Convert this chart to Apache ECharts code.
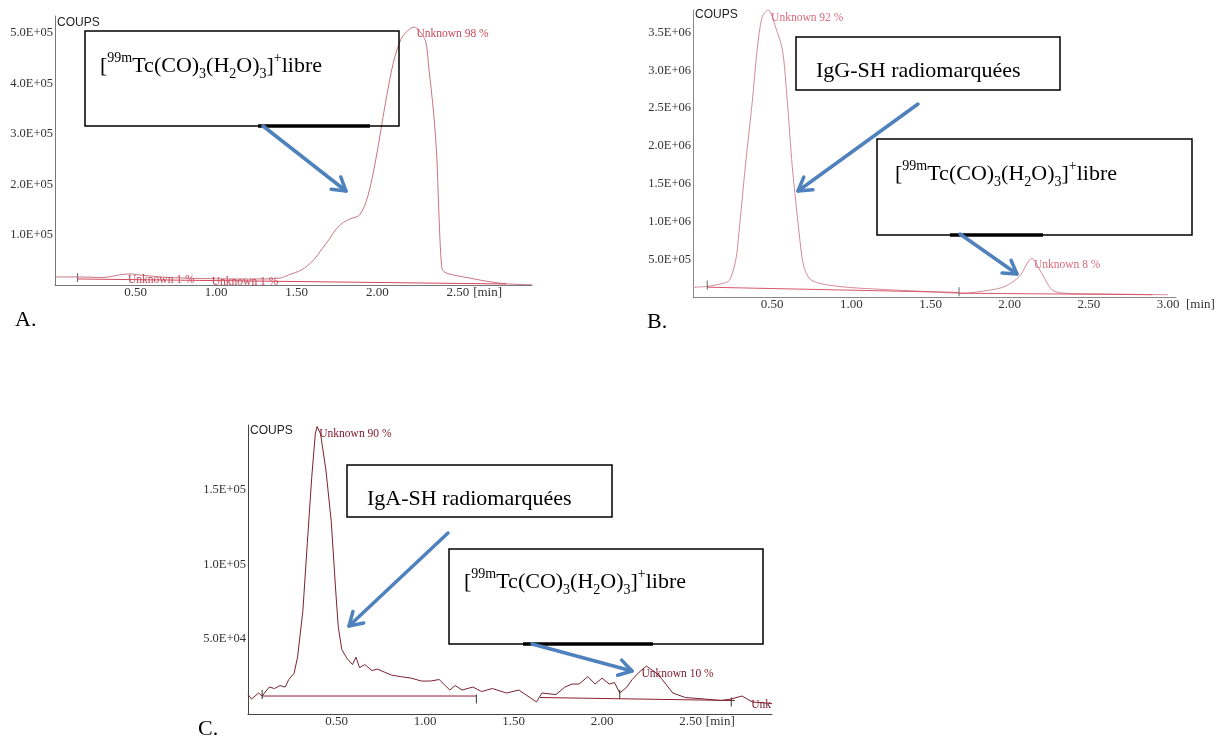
<!DOCTYPE html>
<html><head><meta charset="utf-8">
<script src="https://cdn.jsdelivr.net/npm/echarts@6/dist/echarts.min.js"></script>
<style>html,body{margin:0;padding:0;background:#fff}#c{width:1228px;height:738px}</style>
</head><body><div id="c"></div><script>
// ---------- Panel A ----------
const timeA = [0,0.14,0.3,0.4,0.46,0.55,0.7,0.9,1.1,1.3,1.4,1.45,1.53,1.6,1.66,1.7,1.74,1.78,1.83,1.89,1.94,1.99,2.05,2.10,2.15,2.20,2.23,2.26,2.30,2.32,2.35,2.37,2.38,2.40,2.42,2.50,2.57,2.65,2.78,2.9,2.96];
const countsA = [16000,16000,15000,20000,22000,19000,15000,13000,12000,12000,14000,20000,30000,48000,73000,90000,109000,122000,131000,139000,175000,248000,360000,442000,490000,508000,512000,505000,484000,430000,340000,250000,160000,35000,25000,18000,14000,9000,3000,1000,500];
const baseTimeA = [0.14,2.8];
const baseCountsA = [12000,2000];
const markTimeA = [0.14];
const markCountsA = [15000];
const peakTimeA = [2.24,0.45,0.97];
const peakCountsA = [498000,10000,6000];
const peakTextA = ['Unknown 98 %','Unknown 1 %','Unknown 1 %'];

// ---------- Panel B ----------
const timeB = [0,0.09,0.185,0.23,0.27,0.29,0.33,0.375,0.405,0.437,0.475,0.52,0.565,0.595,0.627,0.648,0.67,0.70,0.75,0.92,1.2,1.5,1.7,1.87,1.97,2.06,2.14,2.20,2.27,2.35,2.6,3.0];
const countsB = [130000,140000,180000,220000,490000,850000,1720000,2600000,3270000,3710000,3800000,3580000,3270000,2600000,1720000,1280000,850000,400000,220000,140000,100000,70000,50000,90000,140000,270000,510000,320000,90000,50000,40000,30000];
const baseTimeB = [0.09,1.68,null,1.68,2.9];
const baseCountsB = [130000,60000,null,50000,30000];
const markTimeB = [0.09,1.68];
const markCountsB = [160000,70000];
const peakTimeB = [0.49,2.15];
const peakCountsB = [3700000,420000];
const peakTextB = ['Unknown 92 %','Unknown 8 %'];

// ---------- Panel C ----------
const timeC = [0,0.02,0.06,0.08,0.12,0.15,0.18,0.21,0.23,0.26,0.28,0.31,0.335,0.36,0.38,0.39,0.41,0.44,0.47,0.495,0.51,0.53,0.56,0.59,0.61,0.63,0.66,0.70,0.73,0.77,0.81,0.86,0.92,0.98,1.03,1.08,1.14,1.17,1.21,1.27,1.32,1.38,1.46,1.53,1.63,1.66,1.74,1.79,1.83,1.87,1.92,1.96,2.0,2.04,2.07,2.1,2.14,2.17,2.21,2.25,2.3,2.34,2.4,2.47,2.58,2.67,2.73,2.79,2.85,2.96];
const countsC = [13000,10000,14000,12000,18000,17000,19000,18000,23000,27000,38000,69000,114000,158000,187000,192000,187000,163000,129000,83000,58000,43000,37000,33000,38000,31000,33000,29000,30000,28000,26000,25000,24000,22000,22000,23000,16000,19000,16000,18000,15000,17000,14000,16000,8000,14000,13000,18000,20000,20000,25000,20000,24000,20000,21000,14000,18000,23000,28000,32000,28000,23000,14000,11000,10000,9000,10000,12000,8000,7000];
const baseTimeC = [0.08,1.29,null,1.65,2.75];
const baseCountsC = [12000,12000,null,11000,9000];
const markTimeC = [0.08,1.29,2.1,2.73];
const markCountsC = [13000,10000,13000,8000];
const peakTimeC = [0.40,2.22,2.84];
const peakCountsC = [187000,27000,6000];
const peakTextC = ['Unknown 90 %','Unknown 10 %','Unk'];

// ---------- tick labels / texts ----------
const xTickLabels = ['0.50','1.00','1.50','2.00','2.50','3.00'];
const yUnit = 'COUPS';
const xUnit = '[min]';
const panelLetters = ['A.','B.','C.'];
const formulaParts = ['[','99m','Tc(CO)','3','(H','2','O)','3',']','+','libre'];
const labelIgG = 'IgG-SH radiomarquées';
const labelIgA = 'IgA-SH radiomarquées';

function zip(t, c){ return t.map((x,i)=> x===null ? [null,null] : [x, c[i]]); }
function sci(v){
  if(v<=0) return '';
  const e = Math.floor(Math.log10(v)+1e-9);
  const m = v/Math.pow(10,e);
  return m.toFixed(1)+'E+'+(e<10?'0':'')+e;
}
function xFmt(v){ const s=v.toFixed(2); return xTickLabels.indexOf(s)>=0 ? s : ''; }

const SERIF = '"Liberation Serif","Times New Roman",serif';
const NARROW = '"Liberation Sans Narrow","Arial Narrow","Liberation Sans",sans-serif';

const grids = [
  {left:55, top:16, width:477, height:269},
  {left:693, top:10, width:483, height:287},
  {left:248, top:425, width:524, height:289}
];
const xMax = [2.96, 3.05, 2.96];
const yMax = [534000, 3800000, 193000];
const yInt = [100000, 500000, 50000];
const axisCol = ['#777','#888','#444'];
const xNameGap = [-67, 10, -69];
const yNameGap = [-7, -5, -6];

const xAxes = grids.map((g,i)=>({
  type:'value', gridIndex:i, min:0, max:xMax[i], interval:0.5,
  axisLine:{show:true, lineStyle:{color:axisCol[i], width:1}},
  axisTick:{show:false}, splitLine:{show:false},
  axisLabel:{show:true, formatter:xFmt, showMinLabel:false, showMaxLabel:false, margin:1,
    fontFamily:SERIF, fontSize:13, color:'#333'},
  name:xUnit, nameLocation:'end', nameGap:xNameGap[i],
  nameTextStyle:{fontFamily:SERIF, fontSize:13, color:'#333', align:'left', verticalAlign:'top', padding:[1,0,0,0]}
}));
const yAxes = grids.map((g,i)=>({
  type:'value', gridIndex:i, min:0, max:yMax[i], interval:yInt[i],
  axisLine:{show:true, lineStyle:{color:axisCol[i], width:1}},
  axisTick:{show:false}, splitLine:{show:false},
  axisLabel:{show:true, formatter:sci, showMinLabel:false, showMaxLabel:false, margin:2,
    fontFamily:SERIF, fontSize:12.5, color:'#333'},
  name:yUnit, nameLocation:'end', nameGap:yNameGap[i],
  nameTextStyle:{fontFamily:NARROW, fontSize:12, color:'#222', align:'left', verticalAlign:'middle', padding:[0,0,0,2]}
}));

const curveCol = ['#c87482','#d48a98','#7b2331'];
const baseCol = ['#d2485c','#d8586a','#8a1f30'];
const labelCol = ['#c8485a','#d86a7a','#7d1526'];

function peakMarks(ts, cs, txt, i){
  return {
    symbol:'circle', symbolSize:1, silent:true, animation:false,
    itemStyle:{color:'rgba(0,0,0,0)'},
    label:{show:true, position:'right', distance:0, formatter:p=>p.name,
      fontFamily:SERIF, fontSize:11.5, color:labelCol[i]},
    data: ts.map((t,k)=>({name:txt[k], coord:[t, cs[k]]}))
  };
}
function tickMarks(ts, cs, i){
  return {
    symbol:'rect', symbolSize:[1,9], silent:true, animation:false,
    itemStyle:{color:i===2?'#333':'#666'}, label:{show:false},
    data: ts.map((t,k)=>({coord:[t, cs[k]]}))
  };
}

const series = [
  {type:'line', xAxisIndex:0, yAxisIndex:0, data:zip(timeA,countsA), showSymbol:false, smooth:0.3,
   lineStyle:{color:curveCol[0], width:1}, markPoint:peakMarks(peakTimeA,peakCountsA,peakTextA,0)},
  {type:'line', xAxisIndex:0, yAxisIndex:0, data:zip(baseTimeA,baseCountsA), showSymbol:false, connectNulls:false,
   lineStyle:{color:baseCol[0], width:1}, markPoint:tickMarks(markTimeA,markCountsA,0)},
  {type:'line', xAxisIndex:1, yAxisIndex:1, data:zip(timeB,countsB), showSymbol:false, smooth:0.3,
   lineStyle:{color:curveCol[1], width:1}, markPoint:peakMarks(peakTimeB,peakCountsB,peakTextB,1)},
  {type:'line', xAxisIndex:1, yAxisIndex:1, data:zip(baseTimeB,baseCountsB), showSymbol:false, connectNulls:false,
   lineStyle:{color:baseCol[1], width:1}, markPoint:tickMarks(markTimeB,markCountsB,1)},
  {type:'line', xAxisIndex:2, yAxisIndex:2, data:zip(timeC,countsC), showSymbol:false,
   lineStyle:{color:curveCol[2], width:1}, markPoint:peakMarks(peakTimeC,peakCountsC,peakTextC,2)},
  {type:'line', xAxisIndex:2, yAxisIndex:2, data:zip(baseTimeC,baseCountsC), showSymbol:false, connectNulls:false,
   lineStyle:{color:baseCol[2], width:1}, markPoint:tickMarks(markTimeC,markCountsC,2)}
];

// ---------- annotations (boxes, arrows, labels) ----------
const richF = {
  n:{fontFamily:SERIF, fontSize:22, lineHeight:30, verticalAlign:'middle', fill:'#000', color:'#000'},
  sup:{fontFamily:SERIF, fontSize:14, lineHeight:14, verticalAlign:'top', fill:'#000', color:'#000'},
  sub:{fontFamily:SERIF, fontSize:14, lineHeight:14, verticalAlign:'bottom', fill:'#000', color:'#000'}
};
const partStyle = ['n','sup','n','sub','n','sub','n','sub','n','sup','n'];
const formulaText = formulaParts.map((p,k)=>'{'+partStyle[k]+'|'+p+'}').join('');

function box(x1,y1,x2,y2){
  return {type:'rect', shape:{x:x1,y:y1,width:x2-x1,height:y2-y1}, style:{fill:'none', stroke:'#000', lineWidth:1.5}, z:40};
}
function seg(x1,x2,y){
  return {type:'line', shape:{x1:x1,y1:y,x2:x2,y2:y}, style:{stroke:'#000', lineWidth:3.5}, z:41};
}
function arrow(x1,y1,x2,y2){
  const a = Math.atan2(y2-y1,x2-x1), L=15, s=0.55;
  const st = {stroke:'#4f81bd', lineWidth:3.5, lineCap:'round', lineJoin:'round', fill:'none'};
  return [
    {type:'line', shape:{x1:x1,y1:y1,x2:x2,y2:y2}, style:st, z:50},
    {type:'polyline', shape:{points:[[x2-L*Math.cos(a-s), y2-L*Math.sin(a-s)],[x2,y2],[x2-L*Math.cos(a+s), y2-L*Math.sin(a+s)]]}, style:st, z:50}
  ];
}
function formula(x,y){
  return {type:'text', x:x, y:y, z:45, style:{text:formulaText, rich:richF, align:'left', verticalAlign:'middle', fill:'#000'}};
}
function plain(txt,x,y,size){
  return {type:'text', x:x, y:y, z:45, style:{text:txt, fontFamily:SERIF, fontSize:size, fill:'#000', align:'left', verticalAlign:'middle'}};
}

const graphic = [].concat(
  [box(85,31,399,126), seg(258,370,126), formula(100,66)],
  arrow(263,126,346,191),
  [box(796,37,1060,90), plain(labelIgG,816,71,22)],
  arrow(918,104,798,191),
  [box(877,139,1192,235), seg(950,1043,235), formula(895,174)],
  arrow(960,234,1017,274),
  [box(347,465,612,517), plain(labelIgA,367,499,22)],
  arrow(448,533,349,626),
  [box(449,549,763,644), seg(523,653,644), formula(464,582)],
  arrow(532,644,632,671),
  [plain(panelLetters[0],15,320,22), plain(panelLetters[1],647,322,22), plain(panelLetters[2],198,729,22)]
);

const chart = echarts.init(document.getElementById('c'), null, {renderer:'canvas'});
chart.setOption({
  animation:false, backgroundColor:'#fff',
  grid:grids, xAxis:xAxes, yAxis:yAxes, series:series, graphic:graphic
});
</script></body></html>
